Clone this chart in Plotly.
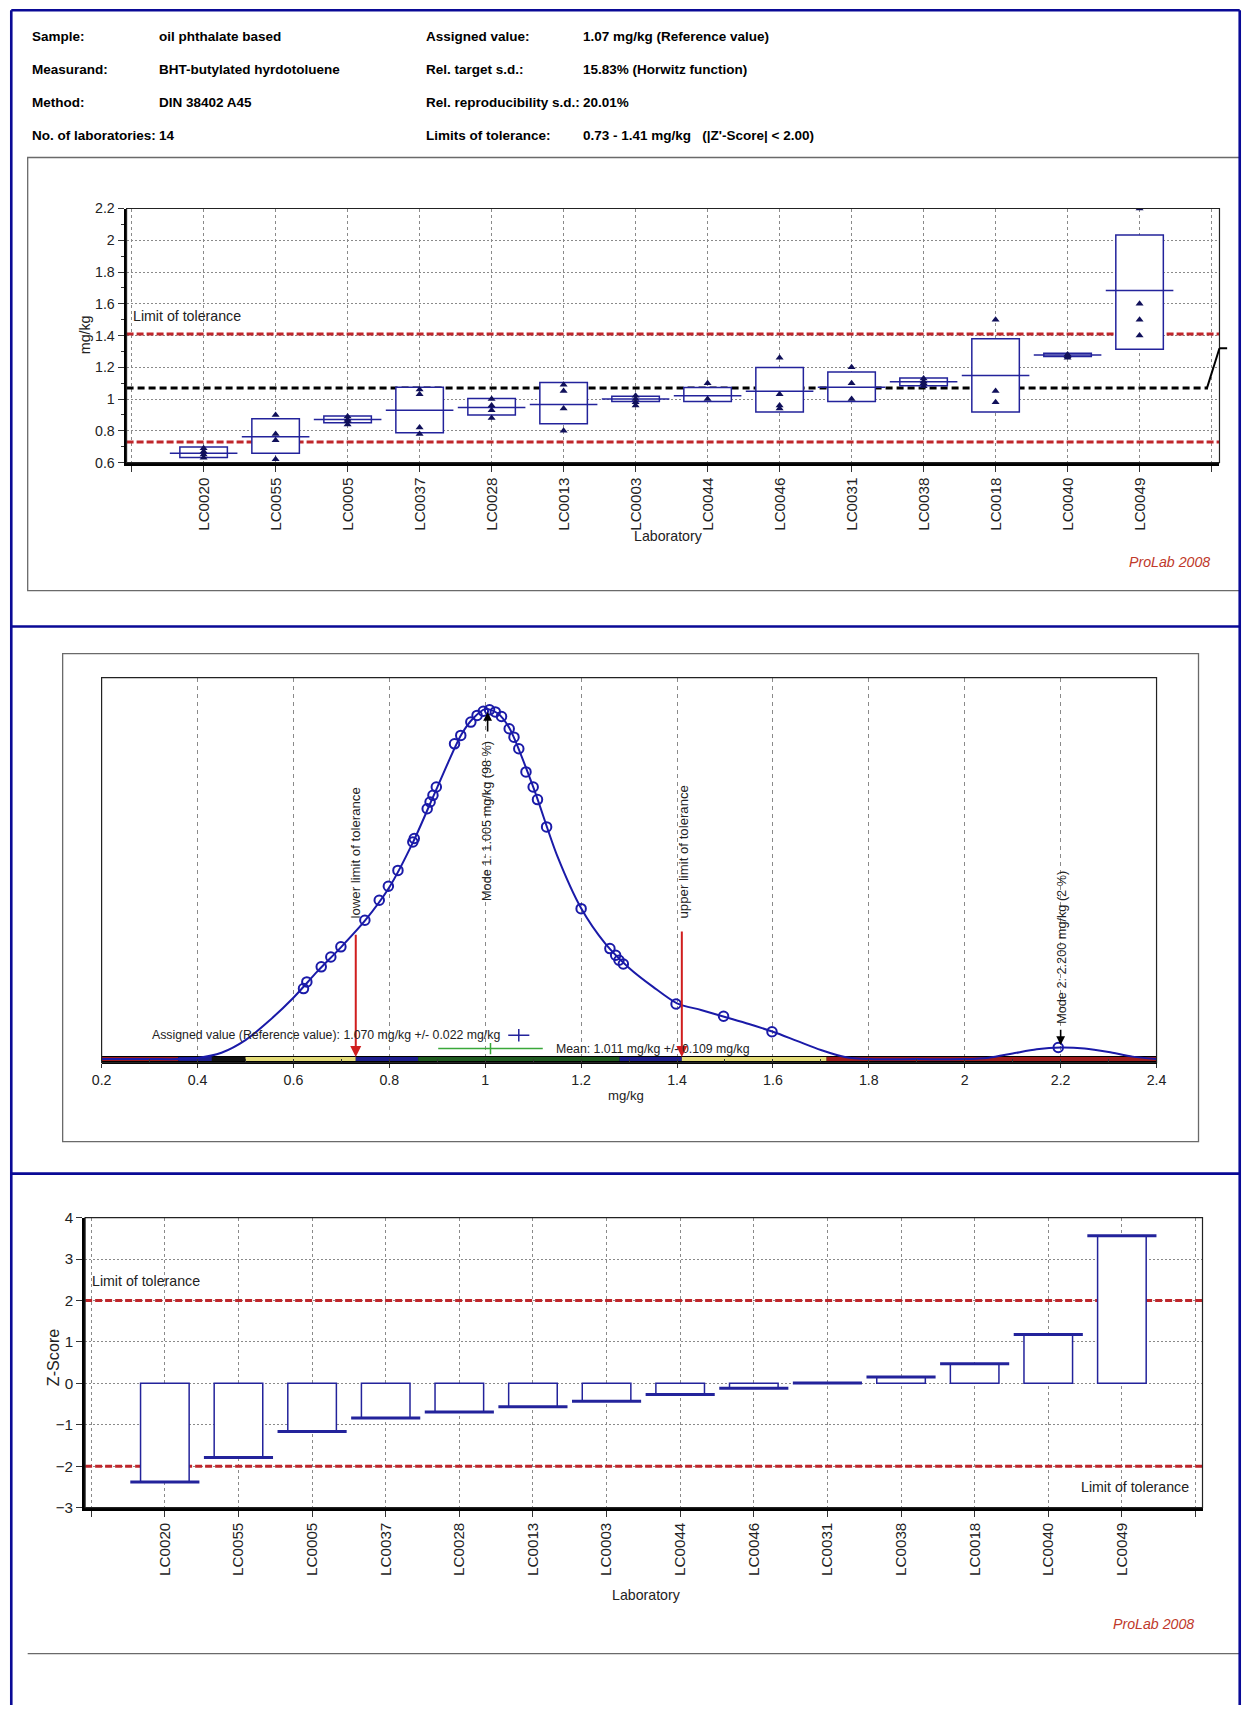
import plotly.graph_objects as go

W, H = 1251, 1713
# Measured placement of the figure inside the photographed page:
# picture_x = KX * figure_x + OX, picture_y = KY * figure_y + OY.
# Target positions below are picture pixels and are converted to figure pixels.
KX, OX = 0.985, 9.3
KY, OY = 0.990, 8.5
FS = 1 / KX   # font/marker compensation

# ---------------- data ----------------
labs = ["LC0020", "LC0055", "LC0005", "LC0037", "LC0028", "LC0013", "LC0003",
        "LC0044", "LC0046", "LC0031", "LC0038", "LC0018", "LC0040", "LC0049"]
positions = list(range(1, len(labs) + 1))

box_low = [0.632, 0.659, 0.850, 0.787, 0.899, 0.844, 0.984, 0.984, 0.918, 0.984, 1.083, 0.918, 1.268, 1.314]
box_high = [0.698, 0.876, 0.893, 1.075, 1.003, 1.104, 1.018, 1.073, 1.198, 1.170, 1.132, 1.380, 1.289, 2.033]
box_mid = [0.659, 0.763, 0.871, 0.929, 0.946, 0.965, 1.001, 1.020, 1.049, 1.075, 1.109, 1.149, 1.278, 1.683]
lab_values = [
    [0.63, 0.65, 0.67, 0.69],
    [0.62, 0.74, 0.78, 0.90],
    [0.84, 0.86, 0.87, 0.89],
    [0.78, 0.82, 1.03, 1.06],
    [0.88, 0.93, 0.96, 1.00],
    [0.80, 0.94, 1.05, 1.09],
    [0.96, 0.98, 1.00, 1.02],
    [1.00, 1.10],
    [0.94, 0.96, 1.03, 1.26],
    [1.00, 1.10, 1.20],
    [1.08, 1.10, 1.11, 1.13],
    [0.98, 1.05, 1.50],
    [1.26, 1.27, 1.28],
    [1.40, 1.50, 1.60, 2.20],
]
assigned = 1.07
assigned_unc = 0.022
tol_low, tol_high = 0.73, 1.41
mean_tail = 1.32

z_scores = [-2.38, -1.79, -1.16, -0.84, -0.69, -0.565, -0.435, -0.27, -0.12, 0.01, 0.15, 0.47, 1.18, 3.56]
z_limit = 2.0

kde_x = [0.20, 0.30, 0.36, 0.40, 0.45, 0.50, 0.55, 0.60, 0.65, 0.70, 0.75, 0.80, 0.85, 0.90, 0.95,
         0.975, 1.00, 1.025, 1.05, 1.10, 1.15, 1.20, 1.25, 1.30, 1.35, 1.40, 1.45, 1.50, 1.55, 1.60,
         1.65, 1.70, 1.75, 1.80, 1.90, 2.00, 2.05, 2.10, 2.15, 2.20, 2.25, 2.30, 2.35, 2.40]
kde_y = [0.0, 0.0, 0.0, 0.003, 0.018, 0.054, 0.11, 0.175, 0.25, 0.32, 0.396, 0.49, 0.62, 0.775, 0.925,
         0.972, 0.998, 0.987, 0.945, 0.776, 0.58, 0.43, 0.33, 0.26, 0.206, 0.159, 0.14, 0.12, 0.10, 0.078,
         0.052, 0.026, 0.006, 0.0, 0.0, 0.0, 0.004, 0.016, 0.028, 0.033, 0.030, 0.020, 0.007, 0.0]
pts_x = [0.621, 0.628, 0.658, 0.678, 0.699, 0.749, 0.779, 0.798, 0.818, 0.849, 0.852, 0.879, 0.885,
         0.891, 0.898, 0.936, 0.949, 0.970, 0.983, 0.996, 1.009, 1.021, 1.034, 1.050, 1.060, 1.070,
         1.085, 1.100, 1.109, 1.128, 1.200, 1.260, 1.272, 1.279, 1.288, 1.398, 1.497, 1.598, 2.195]
pts_y = [0.201, 0.220, 0.263, 0.291, 0.320, 0.396, 0.453, 0.493, 0.538, 0.619, 0.629, 0.714, 0.733,
         0.752, 0.776, 0.899, 0.923, 0.961, 0.980, 0.992, 0.996, 0.990, 0.977, 0.942, 0.918, 0.885,
         0.819, 0.776, 0.740, 0.662, 0.429, 0.315, 0.296, 0.282, 0.271, 0.157, 0.122, 0.078, 0.033]
band_start = [0.20, 0.36, 0.43, 0.50, 0.73, 0.86, 1.28, 1.41, 1.712]
band_end = [0.36, 0.43, 0.50, 0.73, 0.86, 1.28, 1.41, 1.712, 2.40]
band_color = ["#9e1b1b", "#1c1c8c", "#101010", "#e4dc78", "#1c1c8c", "#1e5a1e", "#1c1c8c", "#e4dc78", "#9e1b1b"]
mode1_x, mode1_y, mode1_pct = 1.005, 0.99, 98
mode2_x, mode2_y, mode2_pct = 2.200, 0.04, 2
mean_val, mean_unc = 1.011, 0.109

hdr_left_lbl = ["Sample:", "Measurand:", "Method:", "No. of laboratories:"]
hdr_left_val = ["oil phthalate based", "BHT-butylated hyrdotoluene", "DIN 38402 A45", "14"]
hdr_right_lbl = ["Assigned value:", "Rel. target s.d.:", "Rel. reproducibility s.d.:", "Limits of tolerance:"]
hdr_right_val = ["1.07 mg/kg (Reference value)", "15.83% (Horwitz function)", "20.01%",
                 "0.73 - 1.41 mg/kg \u00a0 (|Z'-Score| < 2.00)"]

# ---------------- style ----------------
NAVY = "#23239b"
DARK = "#10105a"
CURVE = "#1a1aa8"
RED = "#c0262b"
SANS = "Liberation Sans, Arial, sans-serif"
TXT = "#222"


def X(t):
    return min(max((t - OX) / KX, 1.3), W - 1.3)


def Y(t):
    return min(max((t - OY) / KY, 1.3), H - 1.3)


def fx(t):
    return X(t) / W


def fy(t):
    return 1 - Y(t) / H


def fnt(size, color=TXT):
    return dict(family=SANS, size=round(size * FS, 1), color=color)


# plot areas (picture pixels)
TOP = dict(x0=126, x1=1220, y0=208, y1=462)
MID = dict(x0=101, x1=1157, y0=677, y1=1062)
BOT = dict(x0=84.5, x1=1203, y0=1217, y1=1507)
x_rng_top = [-0.07, 15.11]
x_rng_bot = [-0.083, 15.095]
BOX_W = 0.66
top_px_per_unit = (X(TOP["x1"]) - X(TOP["x0"])) / (x_rng_top[1] - x_rng_top[0])
bot_px_per_unit = (X(BOT["x1"]) - X(BOT["x0"])) / (x_rng_bot[1] - x_rng_bot[0])

fig = go.Figure()

# ---------------- top: box chart ----------------
fig.add_trace(go.Bar(x=positions, y=[h - l for h, l in zip(box_high, box_low)], base=box_low, width=BOX_W,
                     marker=dict(color="white", line=dict(color=NAVY, width=1.5)),
                     xaxis="x", yaxis="y", hoverinfo="skip"))
fig.add_trace(go.Scatter(x=positions, y=box_mid, mode="markers", xaxis="x", yaxis="y",
                         marker=dict(symbol="line-ew", size=BOX_W * top_px_per_unit, color=NAVY,
                                     line=dict(color=NAVY, width=1.5))))
tri_x = [p for p, vals in zip(positions, lab_values) for _ in vals]
tri_y = [v for vals in lab_values for v in vals]
fig.add_trace(go.Scatter(x=tri_x, y=tri_y, mode="markers", xaxis="x", yaxis="y",
                         marker=dict(symbol="triangle-up", size=7, color=DARK)))

# ---------------- middle: kernel density ----------------
fig.add_trace(go.Scatter(x=[band_start[0], band_end[-1]], y=[0, 0], mode="lines", xaxis="x2", yaxis="y2",
                         line=dict(color="black", width=6)))
for s, e, c in zip(band_start, band_end, band_color):
    fig.add_trace(go.Scatter(x=[s, e], y=[0, 0], mode="lines", xaxis="x2", yaxis="y2",
                             line=dict(color=c, width=4)))
fig.add_trace(go.Scatter(x=kde_x, y=kde_y, mode="lines", xaxis="x2", yaxis="y2",
                         line=dict(color=CURVE, width=2, shape="spline", smoothing=0.8)))
fig.add_trace(go.Scatter(x=pts_x, y=pts_y, mode="markers", xaxis="x2", yaxis="y2",
                         marker=dict(symbol="circle-open", size=9.5, color=CURVE, line=dict(color=CURVE, width=2))))
fig.add_trace(go.Scatter(x=[assigned], y=[0.068], mode="markers", xaxis="x2", yaxis="y2",
                         error_x=dict(type="constant", value=assigned_unc, width=0, color=NAVY, thickness=1.5),
                         marker=dict(symbol="line-ns-open", size=9, color=NAVY, line=dict(color=NAVY, width=1.5))))
fig.add_trace(go.Scatter(x=[mean_val], y=[0.03], mode="markers", xaxis="x2", yaxis="y2",
                         error_x=dict(type="constant", value=mean_unc, width=0, color="#3aa83a", thickness=1.5),
                         marker=dict(symbol="line-ns-open", size=8, color="#3aa83a",
                                     line=dict(color="#3aa83a", width=1.5))))

# ---------------- bottom: z-scores ----------------
fig.add_trace(go.Bar(x=positions, y=z_scores, width=BOX_W, xaxis="x3", yaxis="y3",
                     marker=dict(color="white", line=dict(color=NAVY, width=1.5)), hoverinfo="skip"))
fig.add_trace(go.Scatter(x=positions, y=z_scores, mode="markers", xaxis="x3", yaxis="y3",
                         marker=dict(symbol="line-ew", size=BOX_W * bot_px_per_unit, color=NAVY,
                                     line=dict(color=NAVY, width=3))))

# ---------------- axes ----------------
grid_x = dict(showgrid=True, gridcolor="#8a8a8a", gridwidth=1, griddash="3px,3px")
lab_ticks = dict(tickmode="array", tickvals=list(range(0, len(labs) + 2)), ticktext=[""] + labs + [""],
                 tickangle=-90, ticks="outside", ticklen=6, tickcolor="#333", tickfont=fnt(15))


def xdom(a):
    return [fx(a["x0"]), fx(a["x1"])]


def ydom(a):
    return [fy(a["y1"]), fy(a["y0"])]


fig.update_layout(
    width=W, height=H, margin=dict(l=0, r=0, t=0, b=0),
    paper_bgcolor="white", plot_bgcolor="white", showlegend=False,
    xaxis=dict(domain=xdom(TOP), range=x_rng_top, anchor="y", zeroline=False,
               showline=True, linecolor="black", linewidth=3, **grid_x, **lab_ticks),
    yaxis=dict(domain=ydom(TOP), range=[0.6, 2.2], anchor="x", tick0=0.6, dtick=0.2,
               ticks="outside", ticklen=6, tickcolor="#333", zeroline=False,
               minor=dict(dtick=0.1, ticks="outside", ticklen=3, tickcolor="#333", showgrid=False),
               showline=True, linecolor="black", linewidth=3,
               showgrid=True, gridcolor="#8a8a8a", gridwidth=1, griddash="2px,2px", tickfont=fnt(14)),
    xaxis2=dict(domain=xdom(MID), range=[0.2, 2.4], anchor="y2", tick0=0.2, dtick=0.2,
                ticks="outside", ticklen=4, tickcolor="#333", zeroline=False,
                minor=dict(dtick=0.1, ticks="inside", ticklen=4, tickcolor="#333", showgrid=False),
                showline=True, linecolor="black", linewidth=1,
                showgrid=True, gridcolor="#8a8a8a", gridwidth=1, griddash="4px,4px", tickfont=fnt(14)),
    yaxis2=dict(domain=ydom(MID), range=[-0.01, 1.088], anchor="x2", visible=False),
    xaxis3=dict(domain=xdom(BOT), range=x_rng_bot, anchor="y3", zeroline=False,
                showline=True, linecolor="black", linewidth=3, **grid_x, **lab_ticks),
    yaxis3=dict(domain=ydom(BOT), range=[-3, 4], anchor="x3", dtick=1,
                ticks="outside", ticklen=6, tickcolor="#333", zeroline=False,
                showline=True, linecolor="black", linewidth=3,
                showgrid=True, gridcolor="#8a8a8a", gridwidth=1, griddash="2px,2px", tickfont=fnt(15)),
)

shapes = []
BLUE_FRAME = "#0a0a96"
GRAYBOX = "#6a6a6a"
lb, rb, tb = fx(4), fx(1247), fy(2)
shapes += [
    dict(type="rect", xref="paper", yref="paper", x0=fx(27), x1=fx(1246), y0=fy(590), y1=fy(157), line=dict(color=GRAYBOX, width=1.3)),
    dict(type="rect", xref="paper", yref="paper", x0=fx(62), x1=fx(1199), y0=fy(1141), y1=fy(653), line=dict(color=GRAYBOX, width=1.3)),
    dict(type="line", xref="paper", yref="paper", x0=fx(27), x1=fx(1243), y0=fy(1653), y1=fy(1653), line=dict(color=GRAYBOX, width=1.3)),
    dict(type="line", xref="paper", yref="paper", x0=lb, x1=lb, y0=tb, y1=0, line=dict(color=BLUE_FRAME, width=2.6)),
    dict(type="line", xref="paper", yref="paper", x0=rb, x1=rb, y0=tb, y1=0, line=dict(color=BLUE_FRAME, width=2.6)),
    dict(type="line", xref="paper", yref="paper", x0=lb, x1=rb, y0=tb, y1=tb, line=dict(color=BLUE_FRAME, width=2.6)),
    dict(type="line", xref="paper", yref="paper", x0=lb, x1=rb, y0=fy(626), y1=fy(626), line=dict(color=BLUE_FRAME, width=2.6)),
    dict(type="line", xref="paper", yref="paper", x0=lb, x1=rb, y0=fy(1173), y1=fy(1173), line=dict(color=BLUE_FRAME, width=2.6)),
]
for xr, yr in [("x", "y"), ("x2", "y2"), ("x3", "y3")]:
    shapes.append(dict(type="rect", xref=xr + " domain", yref=yr + " domain", x0=0, x1=1, y0=0, y1=1,
                       line=dict(color="#222", width=1.2)))
for v in (tol_low, tol_high):
    shapes.append(dict(type="line", xref="x", yref="y", x0=x_rng_top[0], x1=x_rng_top[1], y0=v, y1=v,
                       layer="between", line=dict(color=RED, width=3, dash="7px,3px")))
shapes.append(dict(type="line", xref="x", yref="y", x0=x_rng_top[0], x1=14.95, y0=assigned, y1=assigned,
                   layer="between", line=dict(color="black", width=3, dash="7px,4px")))
shapes.append(dict(type="line", xref="x domain", yref="y", x0=0.9886, x1=1.0, y0=assigned, y1=mean_tail,
                   line=dict(color="black", width=2)))
shapes.append(dict(type="line", xref="x domain", yref="y", x0=1.0, x1=1.007, y0=mean_tail, y1=mean_tail,
                   line=dict(color="black", width=2)))
for v in (-z_limit, z_limit):
    shapes.append(dict(type="line", xref="x3", yref="y3", x0=x_rng_bot[0], x1=x_rng_bot[1], y0=v, y1=v,
                       layer="between", line=dict(color=RED, width=3, dash="7px,3px")))
fig.update_layout(shapes=shapes)


def ptext(x, y, text, size, xanchor="center", angle=0, color=TXT):
    return dict(xref="paper", yref="paper", x=fx(x), y=fy(y), xanchor=xanchor, yanchor="middle",
                textangle=angle, showarrow=False, text=text, font=fnt(size, color))


ann = []
for i in range(4):
    yy = 35.5 + 33.2 * i
    for xp, txt in [(29.5, hdr_left_lbl[i]), (156, hdr_left_val[i]), (424, hdr_right_lbl[i]), (581, hdr_right_val[i])]:
        ann.append(ptext(xp, yy, "<b>" + txt + "</b>", 13.3, xanchor="left", color="black"))

ann += [
    dict(xref="x domain", yref="y", x=0.004, y=1.524, xanchor="left", yanchor="middle", showarrow=False,
         text="Limit of tolerance", font=fnt(14)),
    ptext(84, 334, "mg/kg", 14, angle=-90),
    ptext(668, 535, "Laboratory", 14),
    ptext(1213, 561, "<i>ProLab 2008</i>", 14, xanchor="right", color="#c0392b"),
]

arrow_common = dict(xref="x2", yref="y2", axref="x2", ayref="y2", showarrow=True, text="",
                    arrowhead=2, arrowsize=1.1, standoff=0)
ann += [
    dict(x=tol_low, y=0.006, ax=tol_low, ay=0.359, arrowwidth=2, arrowcolor="#d01e1e", **arrow_common),
    dict(x=tol_high, y=0.006, ax=tol_high, ay=0.368, arrowwidth=2, arrowcolor="#d01e1e", **arrow_common),
    dict(x=mode1_x, y=mode1_y, ax=mode1_x, ay=0.93, arrowwidth=1.6, arrowcolor="black", **arrow_common),
    dict(x=mode2_x, y=mode2_y, ax=mode2_x, ay=0.088, arrowwidth=1.6, arrowcolor="black", **arrow_common),
]
ann += [
    dict(xref="x2", yref="y2", x=tol_low, y=0.396, textangle=-90, xanchor="center", yanchor="bottom",
         showarrow=False, text="lower limit of tolerance", font=fnt(13)),
    dict(xref="x2", yref="y2", x=tol_high + 0.004, y=0.396, textangle=-90, xanchor="center", yanchor="bottom",
         showarrow=False, text="upper limit of tolerance", font=fnt(13)),
    dict(xref="x2", yref="y2", x=mode1_x, y=0.444, textangle=-90, xanchor="center", yanchor="bottom",
         showarrow=False, text="Mode 1: %.3f mg/kg (%d %%)" % (mode1_x, mode1_pct), font=fnt(12.5)),
    dict(xref="x2", yref="y2", x=mode2_x + 0.004, y=0.095, textangle=-90, xanchor="center", yanchor="bottom",
         showarrow=False, text="Mode 2: %.3f mg/kg (%d %%)" % (mode2_x, mode2_pct), font=fnt(12.5)),
    dict(xref="x2", yref="y2", x=1.034, y=0.068, xanchor="right", yanchor="middle", showarrow=False,
         text="Assigned value (Reference value): %.3f mg/kg +/- %.3f mg/kg" % (assigned, assigned_unc),
         font=fnt(12.1)),
    dict(xref="x2", yref="y2", x=1.143, y=0.03, xanchor="left", yanchor="middle", showarrow=False,
         text="Mean: %.3f mg/kg +/- %.3f mg/kg" % (mean_val, mean_unc), font=fnt(12.1)),
    ptext(626, 1095, "mg/kg", 13),
]

ann += [
    dict(xref="x3 domain", yref="y3", x=0.004, y=2.48, xanchor="left", yanchor="middle", showarrow=False,
         text="Limit of tolerance", font=fnt(14)),
    dict(xref="x3 domain", yref="y3", x=0.99, y=-2.5, xanchor="right", yanchor="middle", showarrow=False,
         text="Limit of tolerance", font=fnt(14)),
    ptext(52, 1357, "Z-Score", 16, angle=-90),
    ptext(646, 1594, "Laboratory", 14),
    ptext(1196, 1623, "<i>ProLab 2008</i>", 14, xanchor="right", color="#c0392b"),
]
fig.update_layout(annotations=ann)

fig.write_html("out.html", config={"displayModeBar": False},
               post_script="document.body.style.margin='0px';")
